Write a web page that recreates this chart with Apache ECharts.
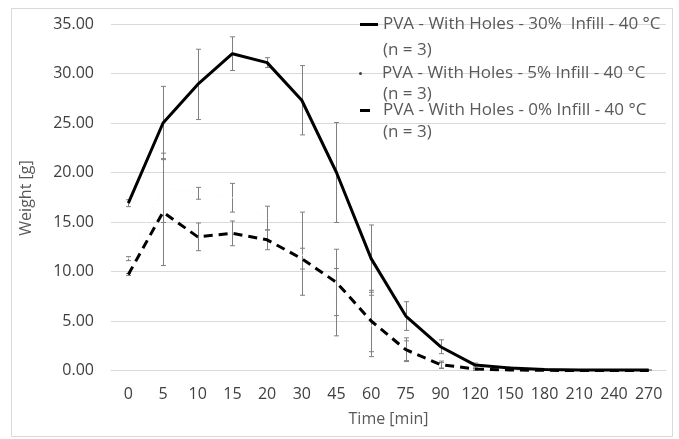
<!DOCTYPE html>
<html>
<head>
<meta charset="utf-8">
<script src="https://cdn.jsdelivr.net/npm/echarts@6/dist/echarts.min.js"></script>
<style>
html,body{margin:0;padding:0;background:#fff;}
#chart{width:679px;height:439px;}
</style>
</head>
<body>
<div id="chart"></div>
<script>
// ---- data ----
const categories = ['0','5','10','15','20','30','45','60','75','90','120','150','180','210','240','270'];
const yTicks = [0, 5, 10, 15, 20, 25, 30, 35];

const name30 = 'PVA - With Holes - 30%  Infill - 40 °C';
const name5  = 'PVA - With Holes - 5% Infill - 40 °C';
const name0  = 'PVA - With Holes - 0% Infill - 40 °C';
const nLabel = '(n = 3)';

const values30 = [16.9, 25.0, 28.9, 32.0, 31.1, 27.3, 20.0, 11.3, 5.5, 2.4, 0.55, 0.25, 0.1, 0.05, 0.05, 0.05];
const errors30 = [0.35, 3.7, 3.55, 1.7, 0.5, 3.5, 5.05, 3.4, 1.45, 0.7, 0.2, 0.1, 0.05, 0.02, 0.02, 0.02];

const values5  = [11.3, 18.45, 17.9, 17.45, 15.4, 11.8, 6.9, 4.5, 2.0, 0.5, 0.1, 0.02, 0, 0, 0, 0];
const errors5  = [0.2, 3.5, 0.6, 1.45, 1.2, 4.2, 3.4, 3.1, 1.0, 0.3, 0.1, 0.02, 0, 0, 0, 0];

const values0  = [9.7, 16.0, 13.5, 13.85, 13.2, 11.3, 8.9, 5.0, 2.1, 0.6, 0.15, 0.05, 0.02, 0, 0, 0];
const errors0  = [0.1, 5.4, 1.4, 1.25, 1.0, 1.05, 3.35, 3.1, 1.2, 0.35, 0.1, 0.03, 0.02, 0, 0, 0];

// ---- helpers ----
const FONT = 'Open Sans';
function errData(vals, errs){ return vals.map((v,i)=>[i, v, errs[i]]); }
function errRender(params, api){
  const i = api.value(0), v = api.value(1), e = api.value(2);
  if (!(e > 0)) return null;
  const top = api.coord([i, v + e]);
  const bot = api.coord([i, v - e]);
  const st = {stroke:'#7f7f7f', lineWidth:1};
  const cx = Math.round(top[0]) + 0.5;
  return {type:'group', children:[
    {type:'line', shape:{x1:cx, y1:top[1], x2:cx, y2:bot[1]}, style:st},
    {type:'line', shape:{x1:cx-2.5, y1:top[1], x2:cx+2.5, y2:top[1]}, style:st},
    {type:'line', shape:{x1:cx-2.5, y1:bot[1], x2:cx+2.5, y2:bot[1]}, style:st}
  ]};
}
function legendFor(name, top, left, iw, ih, icon, color, pad){
  return {
    data:[{name:name, icon:icon, itemStyle:{color:color}}],
    left:left, top:top, padding:0, itemWidth:iw, itemHeight:ih,
    selectedMode:false,
    formatter: n => '{t|' + n + '}',
    textStyle:{fontFamily:FONT, fontSize:17, color:'#595959',
      rich:{t:{fontFamily:FONT, fontSize:17, color:'#595959', padding:[0,0,0,pad], lineHeight:20}}}
  };
}

const chart = echarts.init(document.getElementById('chart'), null, {renderer:'canvas'});
chart.setOption({
  animation:false,
  backgroundColor:'#ffffff',
  grid:{left:111, right:13, top:24, bottom:68.5, containLabel:false},
  legend:[
    legendFor(name30, 16, 360, 18, 3, 'rect', '#000000', 0),
    legendFor(name5, 65, 359, 3, 3, 'circle', '#404040', 15),
    legendFor(name0, 102, 360, 10, 3, 'rect', '#000000', 8)
  ],
  xAxis:{
    type:'category', data:categories, boundaryGap:true,
    axisLine:{show:true, lineStyle:{color:'#d9d9d9', width:1}},
    axisTick:{show:false},
    axisLabel:{fontFamily:FONT, fontSize:16, color:'#404040', margin:16, interval:0}
  },
  yAxis:{
    type:'value', min:yTicks[0], max:yTicks[yTicks.length-1], interval:5,
    axisLine:{show:false}, axisTick:{show:false},
    axisLabel:{fontFamily:FONT, fontSize:16, color:'#404040', margin:17, formatter:v=>v.toFixed(2)},
    splitLine:{lineStyle:{color:'#d9d9d9', width:1}}
  },
  graphic:[
    {type:'rect', shape:{x:11.5, y:8.5, width:661, height:428}, style:{fill:null, stroke:'#d9d9d9', lineWidth:1}, z:-10, silent:true},
    {type:'text', x:26, y:198, rotation:Math.PI/2, style:{text:'Weight [g]', fontFamily:FONT, fontSize:16, fill:'#595959', align:'center', verticalAlign:'middle'}},
    {type:'text', x:388.5, y:419, style:{text:'Time [min]', fontFamily:FONT, fontSize:16, fill:'#595959', align:'center', verticalAlign:'middle'}},
    {type:'text', x:383, y:50, style:{text:nLabel, fontFamily:FONT, fontSize:17, fill:'#595959', align:'left', verticalAlign:'middle'}},
    {type:'text', x:383, y:94, style:{text:nLabel, fontFamily:FONT, fontSize:17, fill:'#595959', align:'left', verticalAlign:'middle'}},
    {type:'text', x:383, y:132, style:{text:nLabel, fontFamily:FONT, fontSize:17, fill:'#595959', align:'left', verticalAlign:'middle'}}
  ],
  series:[
    {type:'custom', name:'err30', renderItem:errRender, data:errData(values30, errors30), z:1, silent:true},
    {type:'custom', name:'err5', renderItem:errRender, data:errData(values5, errors5), z:1, silent:true},
    {type:'custom', name:'err0', renderItem:errRender, data:errData(values0, errors0), z:1, silent:true},
    {type:'line', name:name5, data:values5, symbol:'none', z:2,
      lineStyle:{color:'#f7f7f7', width:1.5, type:[1,3]}, itemStyle:{color:'#404040'}},
    {type:'line', name:name0, data:values0, symbol:'none', z:3,
      lineStyle:{color:'#000000', width:3, type:[9,6]}, itemStyle:{color:'#000000'}},
    {type:'line', name:name30, data:values30, symbol:'none', z:4,
      lineStyle:{color:'#000000', width:3}, itemStyle:{color:'#000000'}}
  ]
});
</script>
</body>
</html>
